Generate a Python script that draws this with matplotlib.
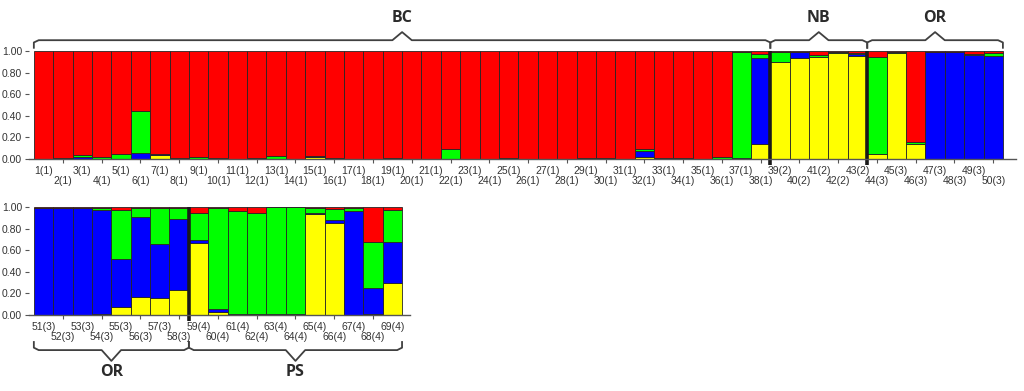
import numpy as np
from matplotlib import pyplot as plt
from matplotlib import transforms

# sample labels: individual number and population code
sample_ids = list(range(1, 70))
sample_pops = [1] * 38 + [2] * 5 + [3] * 15 + [4] * 11

# membership coefficients per cluster (stack order bottom -> top)
yellow = [0, 0, 0, 0, 0, 0, 0.035, 0, 0, 0,
          0, 0, 0, 0, 0.02, 0, 0, 0, 0, 0,
          0, 0, 0, 0, 0, 0, 0, 0, 0, 0,
          0, 0.02, 0, 0, 0, 0, 0, 0.14, 0.895, 0.935,
          0.945, 0.985, 0.955, 0.045, 0.98, 0.135, 0, 0, 0, 0,
          0, 0, 0, 0.01, 0.077, 0.164, 0.158, 0.235, 0.669, 0.025,
          0, 0, 0, 0, 0.935, 0.855, 0, 0.01, 0.30]
blue = [0, 0, 0.02, 0, 0, 0.055, 0.01, 0, 0, 0,
        0, 0, 0, 0, 0.005, 0, 0, 0, 0, 0,
        0, 0, 0, 0, 0, 0, 0, 0, 0, 0,
        0, 0.055, 0, 0, 0, 0, 0.01, 0.795, 0.005, 0.055,
        0, 0, 0.015, 0.005, 0.005, 0, 0.99, 0.99, 0.96, 0.955,
        0.99, 0.99, 0.99, 0.965, 0.44, 0.741, 0.502, 0.655, 0.026, 0.028,
        0.01, 0.01, 0.01, 0.005, 0.009, 0.021, 0.96, 0.238, 0.38]
green = [0, 0.01, 0.02, 0.015, 0.045, 0.385, 0.005, 0.01, 0.015, 0.005,
         0, 0.01, 0.025, 0, 0.005, 0.005, 0, 0, 0.005, 0,
         0, 0.09, 0, 0, 0.005, 0, 0, 0, 0.005, 0.005,
         0, 0.015, 0.005, 0.005, 0, 0.02, 0.98, 0.035, 0.09, 0,
         0.02, 0.005, 0.01, 0.895, 0.005, 0.02, 0, 0.005, 0.015, 0.025,
         0, 0.005, 0.005, 0.02, 0.453, 0.085, 0.33, 0.105, 0.245, 0.937,
         0.956, 0.934, 0.987, 0.992, 0.046, 0.109, 0.03, 0.432, 0.29]
red = [1.0, 0.99, 0.96, 0.985, 0.955, 0.56, 0.95, 0.99, 0.985, 0.995,
       1.0, 0.99, 0.975, 1.0, 0.97, 0.995, 1.0, 1.0, 0.995, 1.0,
       1.0, 0.91, 1.0, 1.0, 0.995, 1.0, 1.0, 1.0, 0.995, 0.995,
       1.0, 0.91, 0.995, 0.995, 1.0, 0.98, 0.01, 0.03, 0.01, 0.01,
       0.035, 0.01, 0.02, 0.055, 0.01, 0.845, 0.01, 0.005, 0.025, 0.02,
       0.01, 0.005, 0.005, 0.005, 0.03, 0.01, 0.01, 0.005, 0.06, 0.01,
       0.034, 0.056, 0.003, 0.003, 0.01, 0.015, 0.01, 0.32, 0.03]

cluster_colors = ['#ffff00', '#0000ff', '#00ff00', '#ff0000']

# (label, first sample, last sample) of each bracket, per panel
top_groups = [('BC', 1, 38), ('NB', 39, 43), ('OR', 44, 50)]
bottom_groups = [('OR', 51, 58), ('PS', 59, 69)]
top_breaks = [38, 43]
bottom_breaks = [58]

plt.rcParams['font.family'] = ['Liberation Sans', 'DejaVu Sans']

fig = plt.figure(figsize=(10.24, 3.91), dpi=100)
ax_top = fig.add_axes([29 / 1024, 1 - 159 / 391, 986.5 / 1024, 108 / 391])
ax_bot = fig.add_axes([29 / 1024, 1 - 315 / 391, 380.8 / 1024, 108 / 391])


def draw_panel(ax, first, last, groups, breaks, below):
    idx = slice(first - 1, last)
    n = last - first + 1
    x = np.arange(n)
    bottom = np.zeros(n)
    for vals, col in zip([yellow, blue, green, red], cluster_colors):
        v = np.array(vals[idx])
        ax.bar(x, v, width=1.0, bottom=bottom, align='edge', color=col,
               edgecolor='#262626', linewidth=0.6)
        bottom += v
    ax.set_xlim(-0.25, n + (0.65 if n > 20 else 0.4))
    ax.set_ylim(0, 1)
    ax.set_yticks([0, 0.2, 0.4, 0.6, 0.8, 1.0])
    ax.set_yticklabels(['0.00', '0.20', '0.40', '0.60', '0.80', '1.00'])
    ax.tick_params(axis='y', length=3, width=0.8, color='#555555',
                   labelsize=7.5, labelcolor='#333333', pad=2)
    # ticks only under the lower row of labels
    ax.set_xticks(x[1::2] + 0.5)
    ax.set_xticklabels([])
    ax.tick_params(axis='x', length=3, width=0.8, color='#555555')
    for s in ['top', 'right', 'left']:
        ax.spines[s].set_visible(False)
    ax.spines['bottom'].set_color('#555555')
    ax.spines['bottom'].set_linewidth(1.0)

    trans = transforms.blended_transform_factory(ax.transData, ax.transAxes)
    row1 = -(12 / 108)
    row2 = -(22 / 108)
    for k in range(n):
        s = first + k
        lab = f'{sample_ids[s - 1]}({sample_pops[s - 1]})'
        ax.text(k + 0.5, row1 if k % 2 == 0 else row2, lab, transform=trans,
                ha='center', va='center', fontsize=7.5, color='#333333')

    for b in breaks:
        ax.plot([b - first + 1] * 2, [-0.055, 1.0], color='#1a1a1a', lw=2.6,
                transform=trans, clip_on=False, solid_capstyle='butt')

    # curly-ish brackets around the population groups
    for name, g0, g1 in groups:
        x0 = g0 - first
        x1 = g1 - first + 1
        xc = (x0 + x1) / 2
        if below:
            tip, line, peak, ty = -0.25, -0.325, -0.425, -0.53
        else:
            tip, line, peak, ty = 1.03, 1.10, 1.175, 1.305
        bx = [x0, x0, x0 + 0.25, xc - 0.5, xc, xc + 0.5, x1 - 0.25, x1, x1]
        by = [tip, line - (line - tip) * 0.3, line, line, peak, line, line,
              line - (line - tip) * 0.3, tip]
        ax.plot(bx, by, color='#404040', lw=1.3, transform=trans, clip_on=False,
                solid_joinstyle='round')
        ax.text(xc, ty, name, transform=trans, ha='center', va='center',
                fontsize=11.5, fontweight='bold', color='#2b2b2b',
                family=['Open Sans', 'DejaVu Sans'])


draw_panel(ax_top, 1, 50, top_groups, top_breaks, below=False)
draw_panel(ax_bot, 51, 69, bottom_groups, bottom_breaks, below=True)

fig.savefig('out.png', dpi=100)
